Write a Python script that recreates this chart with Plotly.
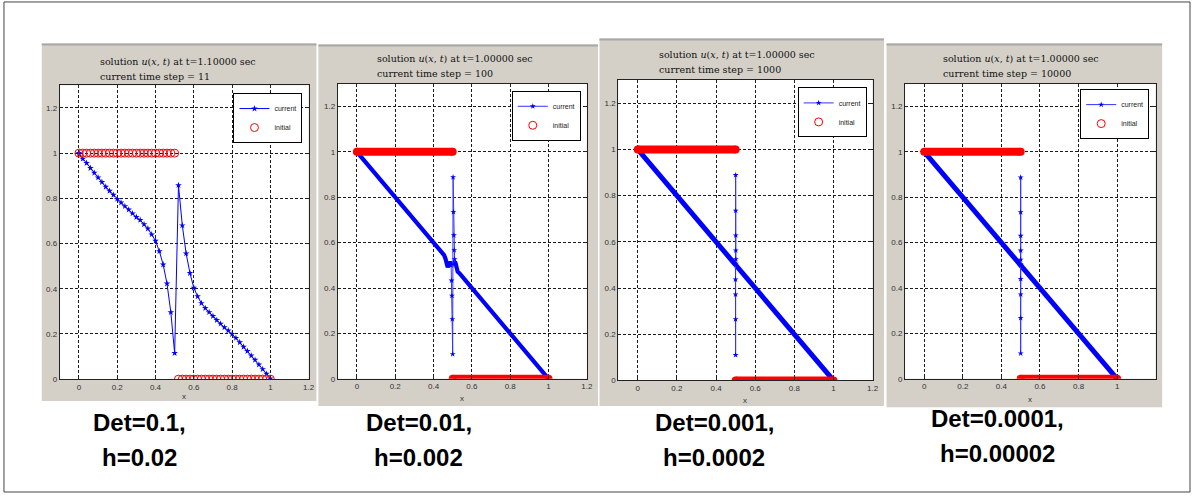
import plotly.graph_objects as go

W, H = 1199, 498

# ---------------- data ----------------
tick_vals = [0, 0.2, 0.4, 0.6, 0.8, 1.0, 1.2]
tick_text = ["0", "0.2", "0.4", "0.6", "0.8", "1", "1.2"]

# Panel 1: Det=0.1, h=0.02 (grid points)
p1_x = [0.00, 0.02, 0.04, 0.06, 0.08, 0.10, 0.12, 0.14, 0.16, 0.18,
        0.20, 0.22, 0.24, 0.26, 0.28, 0.30, 0.32, 0.34, 0.36, 0.38,
        0.40, 0.42, 0.44, 0.46, 0.48, 0.50, 0.52, 0.54, 0.56, 0.58,
        0.60, 0.62, 0.64, 0.66, 0.68, 0.70, 0.72, 0.74, 0.76, 0.78,
        0.80, 0.82, 0.84, 0.86, 0.88, 0.90, 0.92, 0.94, 0.96, 0.98, 1.00]
p1_u = [1.000, 0.975, 0.956, 0.934, 0.913, 0.892, 0.872, 0.851, 0.833, 0.815,
        0.797, 0.781, 0.765, 0.750, 0.733, 0.717, 0.704, 0.685, 0.666, 0.640,
        0.612, 0.566, 0.507, 0.423, 0.296, 0.115, 0.858, 0.680, 0.556, 0.469,
        0.404, 0.366, 0.336, 0.314, 0.296, 0.279, 0.261, 0.245, 0.229, 0.215,
        0.199, 0.182, 0.163, 0.143, 0.124, 0.104, 0.085, 0.064, 0.044, 0.023, 0.003]
p1_init = [1, 1, 1, 1, 1, 1, 1, 1, 1, 1,
           1, 1, 1, 1, 1, 1, 1, 1, 1, 1,
           1, 1, 1, 1, 1, 1, 0, 0, 0, 0,
           0, 0, 0, 0, 0, 0, 0, 0, 0, 0,
           0, 0, 0, 0, 0, 0, 0, 0, 0, 0, 0]

# Panels 2-4: dense grids; the smooth part is read as key points, the spike point by point
p2_line_x = [0.0, 0.455, 0.462, 0.468, 0.474, 0.480, 0.486, 0.492, 0.498, None,
             0.502, 0.508, 0.512, 0.516, 0.520, 0.526, 0.535, 1.0]
p2_line_u = [1.0, 0.545, 0.530, 0.505, 0.492, 0.503, 0.515, 0.505, 0.500, None,
             0.500, 0.508, 0.516, 0.505, 0.488, 0.472, 0.465, 0.0]
p2_spike_x = [0.492, 0.494, 0.496, 0.498, 0.500, 0.502, 0.504, 0.506, 0.508, 0.510, 0.512]
p2_spike_u = [0.500, 0.433, 0.366, 0.263, 0.109, 0.888, 0.735, 0.632, 0.567, 0.527, 0.505]

p3_line_x = [0.0, 0.4988, None, 0.5014, 1.0]
p3_line_u = [1.0, 0.5012, None, 0.4986, 0.0]
p3_spike_x = [0.4992, 0.4994, 0.4996, 0.4998, 0.5000, 0.5002, 0.5004, 0.5006, 0.5008, 0.5010, 0.5012]
p3_spike_u = [0.500, 0.437, 0.372, 0.265, 0.110, 0.889, 0.735, 0.628, 0.563, 0.525, 0.505]

p4_line_x = [0.0, 0.49988, None, 0.50014, 1.0]
p4_line_u = [1.0, 0.50012, None, 0.49986, 0.0]
p4_spike_x = [0.49992, 0.49994, 0.49996, 0.49998, 0.50000, 0.50002, 0.50004, 0.50006, 0.50008, 0.50010, 0.50012]
p4_spike_u = [0.500, 0.440, 0.372, 0.268, 0.112, 0.887, 0.734, 0.630, 0.565, 0.525, 0.505]

init_x = [0.0, 0.5, None, 0.5, 1.0]
init_u = [1, 1, None, 0, 0]

titles_t = ["1.10000", "1.00000", "1.00000", "1.00000"]
titles_step = ["11", "100", "1000", "10000"]
cap_det = ["Det=0.1,", "Det=0.01,", "Det=0.001,", "Det=0.0001,"]
cap_h = ["h=0.02", "h=0.002", "h=0.0002", "h=0.00002"]

# ---------------- layout geometry (pixels) ----------------
plots = [(60.1, 310.2, 86.2, 383.0), (339.4, 589.8, 84.5, 382.7),
         (621.3, 877.0, 80.9, 384.3), (909.5, 1161.5, 84.5, 382.7)]
frames = [(42, 318, 44, 405), (320, 601, 45, 410), (602.5, 888.5, 39, 410), (891, 1168, 44, 411.5)]
title_pos = [(98, 62, 77), (377, 59, 74.3), (660, 55, 70), (946, 59, 74)]
legend_pos = [(304, 94), (583.7, 91.7), (871, 88.3), (1155, 90)]
xlab_y = [401, 402.7, 405, 403.3]
cap_pos = [(140, 427, 462), (421, 427, 462), (718, 427, 462), (1003, 423, 458)]


def px(x):
    return x / W


def py(y):
    return 1 - y / H


fig = go.Figure()
BLUE = "#0000ff"
RED = "#ff0000"

# panel 1
fig.add_trace(go.Scatter(x=p1_x, y=p1_u, mode="lines+markers", name="current",
                         line=dict(color=BLUE, width=1),
                         marker=dict(symbol="star", size=5, color=BLUE),
                         xaxis="x", yaxis="y", legend="legend"))
fig.add_trace(go.Scatter(x=p1_x, y=p1_init, mode="markers", name="initial",
                         marker=dict(symbol="circle-open", size=8, color=RED, line=dict(width=1)),
                         xaxis="x", yaxis="y", legend="legend"))

dense = [(p2_line_x, p2_line_u, p2_spike_x, p2_spike_u, 4.2),
         (p3_line_x, p3_line_u, p3_spike_x, p3_spike_u, 5.0),
         (p4_line_x, p4_line_u, p4_spike_x, p4_spike_u, 5.0)]
for k, (lx, lu, sx, su, lw) in enumerate(dense):
    i = k + 2
    xa, ya, lg = "x%d" % i, "y%d" % i, "legend%d" % i
    fig.add_trace(go.Scatter(x=lx, y=lu, mode="lines", showlegend=False,
                             line=dict(color=BLUE, width=lw), xaxis=xa, yaxis=ya, legend=lg))
    fig.add_trace(go.Scatter(x=sx, y=su, mode="lines+markers", name="current",
                             line=dict(color="#3333ff", width=1),
                             marker=dict(symbol="star", size=4.5, color=BLUE),
                             xaxis=xa, yaxis=ya, legend=lg))
    fig.add_trace(go.Scatter(x=init_x, y=init_u, mode="lines+markers", showlegend=False,
                             line=dict(color=RED, width=8),
                             marker=dict(symbol="circle", size=8, color=RED),
                             xaxis=xa, yaxis=ya, legend=lg))
    fig.add_trace(go.Scatter(x=[None], y=[None], mode="markers", name="initial",
                             marker=dict(symbol="circle-open", size=8, color=RED, line=dict(width=1)),
                             xaxis=xa, yaxis=ya, legend=lg))

layout = dict(width=W, height=H, margin=dict(l=0, r=0, t=0, b=0),
              paper_bgcolor="white", plot_bgcolor="rgba(0,0,0,0)", showlegend=True)

shapes = [dict(type="rect", xref="paper", yref="paper", x0=px(4), x1=px(1196), y0=py(497), y1=py(2),
               line=dict(color="#444444", width=1), layer="below")]
annotations = []
for i in range(4):
    x0, x1, y0, y1 = plots[i]
    f = frames[i]
    sfx = "" if i == 0 else str(i + 1)
    tv = tick_vals if i < 3 else tick_vals[:6]
    tt = tick_text if i < 3 else tick_text[:6]
    common = dict(showgrid=True, gridcolor="#1a1a1a", griddash="3px,2px", gridwidth=1,
                  showline=True, linecolor="#222222", linewidth=1, mirror="ticks",
                  ticks="inside", ticklen=3, tickcolor="#222222", zeroline=False,
                  tickfont=dict(family="Liberation Sans, Arial", size=8, color="#333333"),
                  fixedrange=True)
    layout["xaxis" + sfx] = dict(domain=[px(x0), px(x1)], range=[-0.1, 1.2],
                                 tickmode="array", tickvals=tv, ticktext=tt,
                                 anchor="y" + sfx, **common)
    layout["yaxis" + sfx] = dict(domain=[py(y1), py(y0)], range=[0, 1.3],
                                 tickmode="array", tickvals=tick_vals, ticktext=tick_text,
                                 anchor="x" + sfx, **common)
    lx, ly = legend_pos[i]
    layout["legend" + sfx] = dict(x=px(lx), y=py(ly), xanchor="right", yanchor="top",
                                  bgcolor="white", bordercolor="black", borderwidth=1,
                                  font=dict(family="Liberation Sans, Arial", size=7, color="#222222"),
                                  itemwidth=30, tracegroupgap=0)
    shapes.append(dict(type="rect", xref="paper", yref="paper", x0=px(f[0]), x1=px(f[1]),
                       y0=py(f[3]), y1=py(f[2]), fillcolor="#d4d0c8", line=dict(width=0), layer="below"))
    shapes.append(dict(type="line", xref="paper", yref="paper", x0=px(f[0]), x1=px(f[1]),
                       y0=py(f[2] + 1), y1=py(f[2] + 1), line=dict(color="#a8a8a8", width=2), layer="below"))
    shapes.append(dict(type="rect", xref="paper", yref="paper", x0=px(x0), x1=px(x1),
                       y0=py(y1), y1=py(y0), fillcolor="white", line=dict(width=0), layer="below"))
    tx, t1, t2 = title_pos[i]
    annotations.append(dict(xref="paper", yref="paper", x=px(tx), y=py(t1), xanchor="left", yanchor="middle",
                            showarrow=False,
                            text="solution <i>u</i>(<i>x</i>, <i>t</i>) at t=%s sec" % titles_t[i],
                            font=dict(family="DejaVu Serif", size=9.5, color="#111111")))
    annotations.append(dict(xref="paper", yref="paper", x=px(tx), y=py(t2), xanchor="left", yanchor="middle",
                            showarrow=False, text="current time step = %s" % titles_step[i],
                            font=dict(family="DejaVu Serif", size=9.5, color="#111111")))
    annotations.append(dict(xref="paper", yref="paper", x=px((x0 + x1) / 2), y=py(xlab_y[i]),
                            xanchor="center", yanchor="middle", showarrow=False, text="x",
                            font=dict(family="Liberation Sans, Arial", size=8, color="#333333")))
    cx, cy1, cy2 = cap_pos[i]
    annotations.append(dict(xref="paper", yref="paper", x=px(cx), y=py(cy1), xanchor="center", yanchor="middle",
                            showarrow=False, text="<b>%s</b>" % cap_det[i],
                            font=dict(family="Liberation Sans Narrow, Arial Narrow, Liberation Sans, Arial",
                                      size=24, color="black")))
    annotations.append(dict(xref="paper", yref="paper", x=px(cx), y=py(cy2), xanchor="center", yanchor="middle",
                            showarrow=False, text="<b>%s</b>" % cap_h[i],
                            font=dict(family="Liberation Sans Narrow, Arial Narrow, Liberation Sans, Arial",
                                      size=24, color="black")))

layout["shapes"] = shapes
layout["annotations"] = annotations
fig.update_layout(**layout)
fig.write_html("out.html")
